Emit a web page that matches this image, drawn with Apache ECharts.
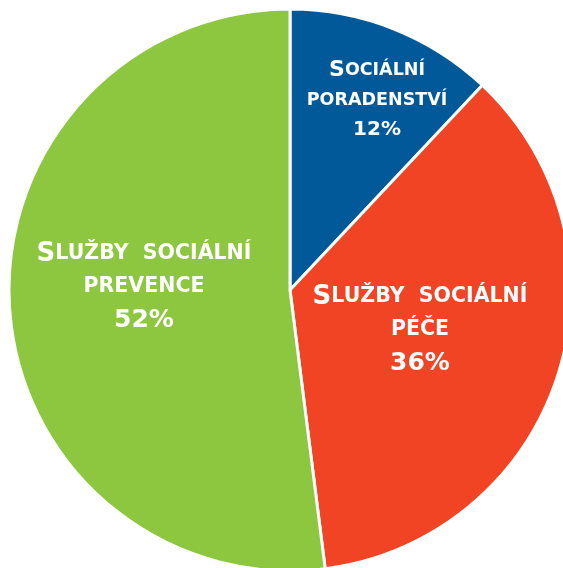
<!DOCTYPE html>
<html>
<head>
<meta charset="utf-8">
<script src="https://cdn.jsdelivr.net/npm/echarts@6/dist/echarts.min.js"></script>
<style>
  html, body { margin: 0; padding: 0; background: #fff; }
  #main { width: 563px; height: 568px; }
</style>
</head>
<body>
<div id="main"></div>
<script>
// data
var names = ['Sociální poradenství', 'Služby sociální péče', 'Služby sociální prevence'];
var values = [12, 36, 52];
var colors = ['#02599a', '#f04424', '#8dc63f'];

// label placement (centre of each text block) and which style set it uses
var labelPos = [[377, 100], [420, 330], [144, 287]];
var labelSet = ['s', 'b', 'b'];

var chart = echarts.init(document.getElementById('main'));

// small caps: first letter big, rest upper case smaller, last word on next line
function smallCaps(name, pct, k) {
  var words = name.split(' ');
  var last = words.pop();
  var first = words.join('  ');
  var out = '{' + k + 'C|' + first.charAt(0).toUpperCase() + '}' +
    '{' + k + 'S|' + first.slice(1).toUpperCase() + '}\n' +
    '{' + k + 'S|' + last.toUpperCase() + '}\n' +
    '{' + k + 'P|' + pct + '%}';
  return out;
}

var font = 'DejaVu Sans';
function rs(size, lh) {
  return { fontFamily: font, fontWeight: 'bold', fontSize: size, color: '#fff', lineHeight: lh };
}

var data = names.map(function (n, i) {
  return { name: n, value: values[i], itemStyle: { color: colors[i] } };
});

var option = {
  animation: false,
  series: [{
    type: 'pie',
    radius: 281,
    center: [290, 290],
    startAngle: 90,
    clockwise: true,
    data: data,
    itemStyle: { borderColor: '#fff', borderWidth: 3 },
    emphasis: { disabled: true },
    label: {
      show: true,
      position: 'inside',
      align: 'center',
      formatter: function (p) {
        return smallCaps(p.name, p.value, labelSet[p.dataIndex]);
      },
      rich: {
        sC: rs(22, 30), sS: rs(17.5, 30), sP: rs(20, 30),
        bC: rs(26, 33), bS: rs(20.5, 33), bP: rs(25, 33)
      }
    },
    labelLine: { show: false },
    labelLayout: function (p) {
      var c = labelPos[p.dataIndex];
      return { x: c[0], y: c[1], align: 'center', verticalAlign: 'middle' };
    }
  }]
};
chart.setOption(option);
</script>
</body>
</html>
